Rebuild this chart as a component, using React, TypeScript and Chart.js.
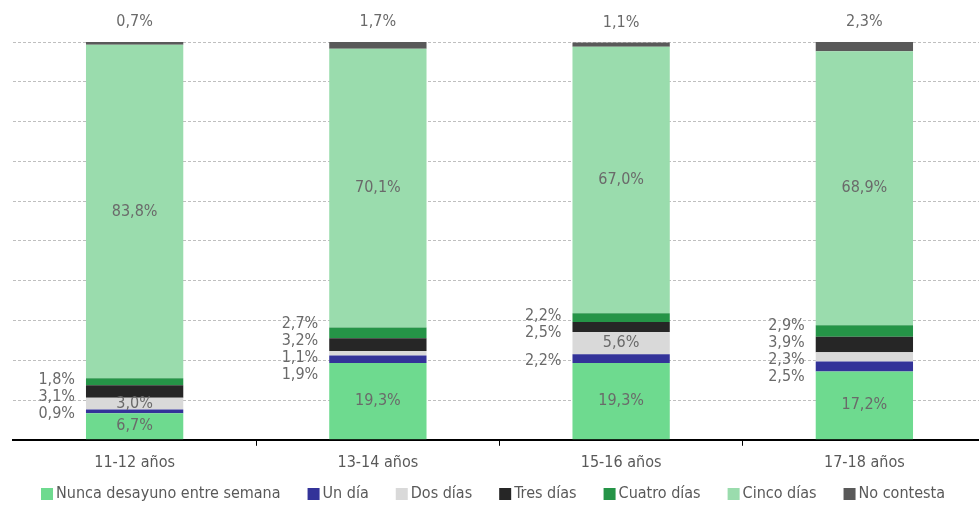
import React, { useEffect, useRef } from "react";
import { Chart, registerables } from "chart.js";

Chart.register(...registerables);

const categories = ["11-12 años", "13-14 años", "15-16 años", "17-18 años"];
const seriesNames = [
  "Nunca desayuno entre semana",
  "Un día",
  "Dos días",
  "Tres días",
  "Cuatro días",
  "Cinco días",
  "No contesta",
];
const nunca = [6.7, 19.3, 19.3, 17.2];
const unDia = [0.9, 1.9, 2.2, 2.5];
const dosDias = [3.0, 1.1, 5.6, 2.3];
const tresDias = [3.1, 3.2, 2.5, 3.9];
const cuatroDias = [1.8, 2.7, 2.2, 2.9];
const cincoDias = [83.8, 70.1, 67.0, 68.9];
const noContesta = [0.7, 1.7, 1.1, 2.3];
const yTicks = [0, 10, 20, 30, 40, 50, 60, 70, 80, 90, 100];

const colors = ["#6EDA8F", "#333399", "#D9D9D9", "#262626", "#259447", "#9ADCAD", "#595959"];
const FONT = "'DejaVu Sans Condensed', 'Liberation Sans Narrow', sans-serif";
const TEXT = "#6A6A6A";

const fmt = (v: number) => v.toFixed(1).replace(".", ",") + "%";

const labelPlugin = {
  id: "segLabels",
  afterDatasetsDraw(chart: any) {
    const ctx = chart.ctx;
    ctx.save();
    ctx.font = `16px ${FONT}`;
    ctx.fillStyle = TEXT;
    const n = chart.data.labels.length;
    const gap = 17;
    for (let i = 0; i < n; i++) {
      const outside: { y: number; text: string; x: number }[] = [];
      chart.data.datasets.forEach((ds: any, di: number) => {
        const el: any = chart.getDatasetMeta(di).data[i];
        if (!el) return;
        const v = ds.data[i];
        const { x, y, base, width } = el.getProps(["x", "y", "base", "width"], true);
        const cy = (y + base) / 2;
        if (di === 0 || di === 5 || (di === 2 && v >= 3)) {
          ctx.textAlign = "center";
          ctx.textBaseline = "middle";
          ctx.fillText(fmt(v), x, cy);
        } else if (di === 6) {
          ctx.textAlign = "center";
          ctx.textBaseline = "middle";
          ctx.fillText(fmt(v), x, Math.min(y, base) - 20);
        } else {
          outside.push({ y: cy, text: fmt(v), x: x - width / 2 - 11 });
        }
      });
      outside.sort((a, b) => a.y - b.y);
      type Cl = { items: typeof outside; start: number };
      const clusters: Cl[] = [];
      const calc = (c: Cl) => {
        let s = 0;
        c.items.forEach((it, k) => (s += it.y - k * gap));
        c.start = s / c.items.length;
      };
      outside.forEach((it) => {
        const c: Cl = { items: [it], start: it.y };
        clusters.push(c);
        while (clusters.length > 1) {
          const b = clusters[clusters.length - 1];
          const a = clusters[clusters.length - 2];
          if (a.start + a.items.length * gap > b.start) {
            a.items = a.items.concat(b.items);
            calc(a);
            clusters.pop();
          } else break;
        }
      });
      ctx.textAlign = "right";
      ctx.textBaseline = "middle";
      clusters.forEach((c) => {
        c.items.forEach((it, k) => {
          ctx.fillText(it.text, it.x, c.start + k * gap + 2);
        });
      });
    }
    ctx.restore();
  },
};

const legendPlugin = {
  id: "bottomLegend",
  afterDraw(chart: any) {
    const ctx = chart.ctx;
    ctx.save();
    ctx.font = `16px ${FONT}`;
    const box = 12;
    const textGap = 3;
    const itemGap = 27;
    const items = chart.data.datasets.map((ds: any) => ({
      label: ds.label,
      color: ds.backgroundColor,
      w: box + textGap + ctx.measureText(ds.label).width,
    }));
    const total = items.reduce((s: number, it: any) => s + it.w, 0) + itemGap * (items.length - 1);
    let x = (chart.width - total) / 2;
    const cy = 494;
    ctx.textAlign = "left";
    ctx.textBaseline = "middle";
    items.forEach((it: any) => {
      ctx.fillStyle = it.color;
      ctx.fillRect(x, cy - box / 2, box, box);
      ctx.fillStyle = "#595959";
      ctx.fillText(it.label, x + box + textGap, cy);
      x += it.w + itemGap;
    });
    ctx.restore();
  },
};

export default function App() {
  const ref = useRef<HTMLCanvasElement>(null);
  useEffect(() => {
    const values = [nunca, unDia, dosDias, tresDias, cuatroDias, cincoDias, noContesta];
    const chart = new Chart(ref.current!, {
      type: "bar",
      data: {
        labels: categories,
        datasets: seriesNames.map((name, i) => ({
          label: name,
          data: values[i],
          backgroundColor: colors[i],
          borderWidth: 0,
          barPercentage: 0.4,
          categoryPercentage: 1,
        })),
      },
      options: {
        animation: false,
        responsive: false,
        layout: { padding: { left: 13, top: 42, right: 0, bottom: 30 } },
        plugins: {
          legend: { display: false },
          tooltip: { enabled: false },
        },
        scales: {
          x: {
            stacked: true,
            grid: {
              display: true,
              drawOnChartArea: false,
              drawTicks: true,
              tickLength: 6,
              tickColor: (c: any) => (c.index === 0 ? "rgba(0,0,0,0)" : "#000"),
              offset: true,
            },
            border: { display: true, color: "#000", width: 2 },
            ticks: { color: "#595959", font: { family: FONT, size: 16 }, padding: 7 },
          },
          y: {
            stacked: true,
            min: 0,
            max: 100,
            afterBuildTicks: (axis: any) => {
              axis.ticks = yTicks.map((v) => ({ value: v }));
            },
            ticks: { display: false },
            grid: { color: "#BFBFBF", drawTicks: false, lineWidth: 1 },
            border: { display: false, dash: [3, 2] },
          },
        },
      },
      plugins: [labelPlugin, legendPlugin],
    });
    return () => chart.destroy();
  }, []);
  return (
    <div style={{ position: "absolute", left: 0, top: 0, width: 979, height: 509, overflow: "hidden", background: "#fff" }}>
      <canvas ref={ref} width={986} height={509} />
    </div>
  );
}
